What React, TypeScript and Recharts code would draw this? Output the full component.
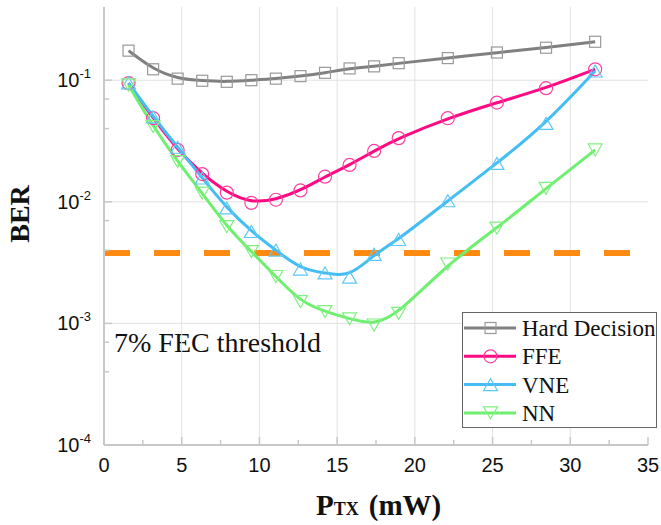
import { LineChart, Line, XAxis, YAxis, ReferenceLine, Legend, Customized } from "recharts";

// transmitted power, mW
const P_TX = [1.58, 3.16, 4.74, 6.32, 7.9, 9.48, 11.06, 12.64, 14.22, 15.8, 17.38, 18.96, 22.12, 25.28, 28.44, 31.6];

const HARD_DECISION = [0.175, 0.123, 0.103, 0.099, 0.097, 0.1, 0.103, 0.108, 0.115, 0.125, 0.13, 0.138, 0.152, 0.169, 0.185, 0.207];
const FFE = [0.0945, 0.0487, 0.0267, 0.0169, 0.0119, 0.0098, 0.0104, 0.0124, 0.0161, 0.0201, 0.0262, 0.0334, 0.0487, 0.0655, 0.086, 0.123];
const VNE = [0.095, 0.05, 0.0281, 0.0157, 0.0089, 0.0057, 0.004, 0.0028, 0.0026, 0.0024, 0.0037, 0.0049, 0.0102, 0.0207, 0.0442, 0.119];
const NN = [0.0914, 0.0415, 0.0214, 0.0118, 0.00625, 0.0039, 0.00243, 0.00151, 0.00125, 0.00109, 0.00097, 0.00121, 0.00308, 0.00607, 0.0129, 0.0267];

const X_TICKS = [0, 2.5, 5, 7.5, 10, 12.5, 15, 17.5, 20, 22.5, 25, 27.5, 30, 32.5, 35];
const X_GRID = [5, 10, 15, 20, 25, 30];
const Y_TICKS = [1e-4, 4e-4, 7e-4, 1e-3, 4e-3, 7e-3, 1e-2, 0.04, 0.07, 0.1];
const Y_MAJOR = [1e-4, 1e-3, 1e-2, 1e-1];
const Y_GRID = [1e-3, 1e-2, 1e-1];
const FEC_THRESHOLD = 3.8e-3;

const SERIES = [
  { key: "hd", name: "Hard Decision", color: "#808080", marker: "#999999", shape: "square" },
  { key: "ffe", name: "FFE", color: "#FF0A82", marker: "#FF3FA0", shape: "circle" },
  { key: "vne", name: "VNE", color: "#44BDF3", marker: "#5EC8F8", shape: "up" },
  { key: "nn", name: "NN", color: "#6FEF6F", marker: "#80F080", shape: "down" },
];

const data = P_TX.map((p, i) => ({
  p,
  hd: HARD_DECISION[i],
  ffe: FFE[i],
  vne: VNE[i],
  nn: NN[i],
}));

const FRAME = "#C8C8C8";
const GRID = "#E2E2E2";
const SANS = "'Liberation Sans', Arial, sans-serif";
const SERIF = "'Liberation Serif', 'Times New Roman', serif";

function Marker({ shape, cx, cy, color }: any) {
  const common = { fill: "none", stroke: color, strokeWidth: 1.2 };
  if (shape === "square") return <rect x={cx - 5.5} y={cy - 5.5} width={11} height={11} {...common} />;
  if (shape === "circle") return <circle cx={cx} cy={cy} r={6.5} {...common} />;
  if (shape === "up")
    return <polygon points={`${cx},${cy - 6} ${cx + 7},${cy + 6} ${cx - 7},${cy + 6}`} {...common} />;
  return <polygon points={`${cx - 7},${cy - 6} ${cx + 7},${cy - 6} ${cx},${cy + 6}`} {...common} />;
}

const isMajorX = (v: number) => v % 5 === 0;
const isMajorY = (v: number) => Y_MAJOR.some((m) => Math.abs(m - v) / m < 1e-6);

function BottomTick({ x, y, payload }: any) {
  const v = payload.value;
  const major = isMajorX(v);
  return (
    <g>
      <line x1={x} x2={x} y1={y} y2={y - (major ? 8 : 5)} stroke={FRAME} strokeWidth={1.5} />
      {major && (
        <text x={x} y={y + 27} textAnchor="middle" fontFamily={SANS} fontSize={20} fill="#111">
          {v}
        </text>
      )}
    </g>
  );
}

function TopTick({ x, y, payload }: any) {
  const major = isMajorX(payload.value);
  return <line x1={x} x2={x} y1={y} y2={y + (major ? 8 : 5)} stroke={FRAME} strokeWidth={1.5} />;
}

function LeftTick({ x, y, payload }: any) {
  const v = payload.value;
  const major = isMajorY(v);
  const exp = Math.round(Math.log10(v));
  return (
    <g>
      <line x1={x} x2={x + (major ? 8 : 5)} y1={y} y2={y} stroke={FRAME} strokeWidth={1.5} />
      {major && (
        <text x={x - 13} y={y + 7} textAnchor="end" fontFamily={SANS} fontSize={20} fill="#111">
          <tspan>10</tspan>
          <tspan dy={-9} fontSize={13}>{`-${Math.abs(exp)}`}</tspan>
        </text>
      )}
    </g>
  );
}

function RightTick({ x, y, payload }: any) {
  const major = isMajorY(payload.value);
  return <line x1={x} x2={x - (major ? 8 : 5)} y1={y} y2={y} stroke={FRAME} strokeWidth={1.5} />;
}

function Annotations() {
  return (
    <g>
      <text x={114} y={352} fontFamily={SERIF} fontSize={28} fill="#111">
        7% FEC threshold
      </text>
      <text
        x={29}
        y={214}
        transform="rotate(-90 29 214)"
        textAnchor="middle"
        fontFamily={SERIF}
        fontWeight="bold"
        fontSize={28}
        fill="#111"
      >
        BER
      </text>
      <text x={316} y={515} fontFamily={SERIF} fontWeight="bold" fontSize={29} fill="#111">
        <tspan>P</tspan>
        <tspan fontSize={18}>TX</tspan>
        <tspan dx={10}>(mW)</tspan>
      </text>
    </g>
  );
}

function LegendBox() {
  return (
    <div style={{ width: 195, height: 116, boxSizing: "border-box", border: "1.5px solid #666", background: "#fff" }}>
      <svg width={192} height={113}>
        {SERIES.map((s, i) => {
          const cy = 15 + i * 28.3;
          return (
            <g key={s.key}>
              <line x1={1} x2={53} y1={cy} y2={cy} stroke={s.color} strokeWidth={3} />
              <Marker shape={s.shape} cx={27.5} cy={cy} color={s.marker} />
              <text x={59} y={cy + 8} fontFamily={SERIF} fontSize={23} fill="#111">
                {s.name}
              </text>
            </g>
          );
        })}
      </svg>
    </div>
  );
}

export default function App() {
  return (
    <div style={{ position: "absolute", left: 0, top: 0, background: "#fff" }}>
      <LineChart width={661} height={525} data={data} margin={{ top: 7, right: 13, bottom: 0, left: 0 }}>
        <XAxis
          xAxisId="bottom"
          dataKey="p"
          type="number"
          domain={[0, 35]}
          ticks={X_TICKS}
          interval={0}
          allowDataOverflow
          height={80}
          tickSize={0}
          tickMargin={0}
          tickLine={false}
          axisLine={{ stroke: FRAME, strokeWidth: 2 }}
          tick={<BottomTick />}
        />
        <XAxis
          xAxisId="top"
          orientation="top"
          dataKey="p"
          type="number"
          domain={[0, 35]}
          ticks={X_TICKS}
          interval={0}
          allowDataOverflow
          height={0}
          tickSize={0}
          tickMargin={0}
          tickLine={false}
          axisLine={{ stroke: FRAME, strokeWidth: 2 }}
          tick={<TopTick />}
        />
        <YAxis
          yAxisId="left"
          scale="log"
          domain={[1e-4, 0.4]}
          ticks={Y_TICKS}
          interval={0}
          allowDataOverflow
          width={104}
          tickSize={0}
          tickMargin={0}
          tickLine={false}
          axisLine={{ stroke: FRAME, strokeWidth: 2 }}
          tick={<LeftTick />}
        />
        <YAxis
          yAxisId="right"
          orientation="right"
          scale="log"
          domain={[1e-4, 0.4]}
          ticks={Y_TICKS}
          interval={0}
          allowDataOverflow
          width={0}
          tickSize={0}
          tickMargin={0}
          tickLine={false}
          axisLine={{ stroke: FRAME, strokeWidth: 2 }}
          tick={<RightTick />}
        />
        {X_GRID.map((v) => (
          <ReferenceLine key={`gx${v}`} x={v} xAxisId="bottom" yAxisId="left" stroke={GRID} strokeWidth={1} />
        ))}
        {Y_GRID.map((v) => (
          <ReferenceLine key={`gy${v}`} y={v} xAxisId="bottom" yAxisId="left" stroke={GRID} strokeWidth={1} />
        ))}
        <ReferenceLine
          y={FEC_THRESHOLD}
          xAxisId="bottom"
          yAxisId="left"
          stroke="#FF8A12"
          strokeWidth={6}
          strokeDasharray="26 24"
        />
        {SERIES.map((s) => (
          <Line
            key={s.key}
            xAxisId="bottom"
            yAxisId="left"
            dataKey={s.key}
            name={s.name}
            type="basis"
            stroke={s.color}
            strokeWidth={3}
            isAnimationActive={false}
            activeDot={false}
            dot={(props: any) => (
              <Marker key={`${s.key}-${props.index}`} shape={s.shape} cx={props.cx} cy={props.cy} color={s.marker} />
            )}
          />
        ))}
        <Legend
          layout="vertical"
          align="center"
          verticalAlign="middle"
          wrapperStyle={{ left: 462, top: 312, width: 195, height: 116 }}
          content={() => <LegendBox />}
        />
        <Customized component={Annotations} />
      </LineChart>
    </div>
  );
}
